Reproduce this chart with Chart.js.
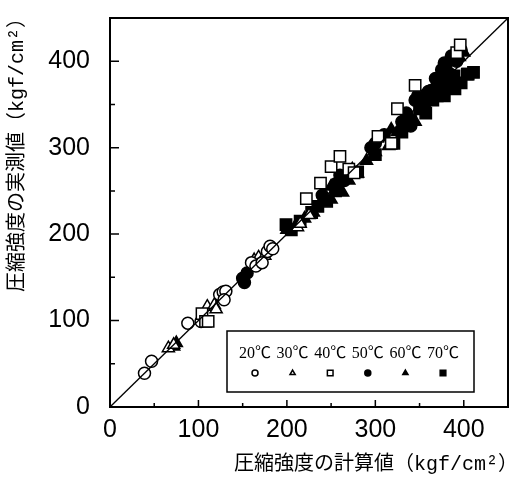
<!DOCTYPE html>
<html>
<head>
<meta charset="utf-8">
<script src="https://cdn.jsdelivr.net/npm/chart.js@4"></script>
<style>
  html, body { margin: 0; padding: 0; background: #fff; }
</style>
</head>
<body>
<canvas id="chart" width="525" height="479"></canvas>
<script>
// temperature series (legend order)
const categories = ["20℃", "30℃", "40℃", "50℃", "60℃", "70℃"];

const s20 = [[39,39],[47,53],[88,97],[103,99],[124,130],[128,133],[131,134],[129,124],
  [160,167],[165,163],[172,167],[178,180],[181,186],[184,183]];
const s30 = [[66,68],[72,72],[110,116],[118,118],[120,113],[127,126],[163,170],[168,173],
  [175,175],[212,208],[215,212],[225,222]];
const s40 = [[104,108],[108,99],[111,99],[222,241],[238,259],[250,278],[260,290],[270,275],
  [276,271],[303,313],[318,305],[325,345],[345,372],[392,410],[396,419]];
const s50 = [[150,149],[152,144],[155,155],[240,245],[255,258],[260,268],[265,262],[295,300],
  [300,305],[310,315],[330,330],[335,340],[340,325],[345,355],[348,360],[352,350],[355,360],
  [360,365],[363,366],[368,380],[370,372],[375,390],[378,398],[380,395],[385,385],[386,406],
  [388,405],[392,400],[397,413]];
const s60 = [[72,70],[75,74],[200,205],[210,210],[220,218],[230,225],[240,238],[250,240],
  [250,255],[263,248],[270,262],[274,275],[280,270],[290,285],[300,295],[315,302],[318,321],
  [325,318],[340,335],[345,330],[355,352],[370,362],[380,370],[385,378],[395,405],[400,410]];
const s70 = [[199,211],[205,205],[215,215],[228,225],[235,232],[245,238],[255,250],[280,272],
  [300,292],[321,305],[330,318],[340,330],[350,345],[357,340],[365,355],[370,360],[375,378],
  [378,360],[386,371],[389,383],[390,368],[397,375],[404,385],[405,385],[411,387]];

const tickVals = [0, 100, 200, 300, 400];
const minorVals = [50, 150, 250, 350];
const diagonal = [[0, 0], [450, 450]];

const styles = [
  { pointStyle: 'circle', radius: 6, fill: '#fff' },
  { pointStyle: 'triangle', radius: 7, fill: '#fff' },
  { pointStyle: 'rect', radius: 8, fill: '#fff' },
  { pointStyle: 'circle', radius: 6, fill: '#000' },
  { pointStyle: 'triangle', radius: 7, fill: '#000' },
  { pointStyle: 'rect', radius: 8, fill: '#000' }
];
const series = [s20, s30, s40, s50, s60, s70];

const toXY = arr => arr.map(p => ({ x: p[0], y: p[1] }));

// open markers on top, so they go first (chart.js draws index 0 last)
const drawOrder = [2, 0, 1, 3, 4, 5];
const datasets = [{
  type: 'line',
  label: 'y=x',
  data: toXY(diagonal),
  borderColor: '#000',
  borderWidth: 1.3,
  pointRadius: 0,
  fill: false
}];
drawOrder.forEach(i => {
  datasets.push({
    label: categories[i],
    data: toXY(series[i]),
    pointStyle: styles[i].pointStyle,
    pointRadius: styles[i].radius,
    pointBackgroundColor: styles[i].fill,
    pointBorderColor: '#000',
    pointBorderWidth: 1.5
  });
});

const deco = {
  id: 'deco',
  afterDatasetsDraw(chart) {
    const { ctx, chartArea: a, scales: { x, y } } = chart;
    ctx.save();
    ctx.strokeStyle = '#000';

    // frame
    ctx.lineWidth = 2;
    ctx.strokeRect(a.left, a.top, a.right - a.left, a.bottom - a.top);

    // inward ticks
    ctx.lineWidth = 1.5;
    ctx.beginPath();
    tickVals.forEach(v => {
      const px = x.getPixelForValue(v);
      ctx.moveTo(px, a.bottom); ctx.lineTo(px, a.bottom - 7);
      const py = y.getPixelForValue(v);
      ctx.moveTo(a.left, py); ctx.lineTo(a.left + 9, py);
    });
    minorVals.forEach(v => {
      const py = y.getPixelForValue(v);
      ctx.moveTo(a.left, py); ctx.lineTo(a.left + 5, py);
      const px = x.getPixelForValue(v);
      ctx.moveTo(px, a.bottom); ctx.lineTo(px, a.bottom - 4);
    });
    ctx.stroke();

    // legend box
    const bx = a.left + 117, by = a.bottom - 76, bw = 247, bh = 61;
    ctx.fillStyle = '#fff';
    ctx.fillRect(bx, by, bw, bh);
    ctx.lineWidth = 1.5;
    ctx.strokeRect(bx, by, bw, bh);
    ctx.font = '16px "Liberation Serif", "Noto Sans CJK JP"';
    ctx.textAlign = 'center';
    ctx.textBaseline = 'middle';
    categories.forEach((c, i) => {
      const cx = bx + 28 + i * 37.6;
      ctx.fillStyle = '#000';
      ctx.fillText(c, cx, by + 23);
      ctx.fillStyle = styles[i].fill;
      ctx.strokeStyle = '#000';
      ctx.lineWidth = 1.5;
      Chart.helpers.drawPoint(ctx, {
        pointStyle: styles[i].pointStyle,
        radius: styles[i].pointStyle === 'rect' ? 4 : 3,
        rotation: 0,
        borderWidth: 1.5
      }, cx, by + 42);
    });

    // axis titles
    ctx.fillStyle = '#000';
    ctx.font = '20px "Liberation Mono", "Noto Sans CJK JP"';
    ctx.textAlign = 'right';
    ctx.fillText('圧縮強度の計算値（kgf/cm²）', 518, 465);
    ctx.translate(18, 150);
    ctx.rotate(-Math.PI / 2);
    ctx.textAlign = 'center';
    ctx.fillText('圧縮強度の実測値（kgf/cm²）', 0, 0);
    ctx.restore();
  }
};

const tickFont = { family: '"Liberation Sans", Arial', size: 25 };

new Chart(document.getElementById('chart'), {
  type: 'scatter',
  data: { datasets: datasets },
  options: {
    responsive: false,
    animation: false,
    devicePixelRatio: 1,
    layout: { padding: { left: 0, right: 17, top: 18, bottom: 0 } },
    plugins: { legend: { display: false }, tooltip: { enabled: false } },
    scales: {
      x: {
        type: 'linear', min: 0, max: 450,
        afterBuildTicks: s => { s.ticks = tickVals.map(v => ({ value: v })); },
        afterFit: s => { s.height = 72; s.paddingLeft = 0; s.paddingRight = 0; },
        grid: { display: false, drawTicks: false },
        border: { display: false },
        ticks: { color: '#000', font: tickFont, padding: 8, maxRotation: 0 }
      },
      y: {
        type: 'linear', min: 0, max: 450,
        afterBuildTicks: s => { s.ticks = tickVals.map(v => ({ value: v })); },
        afterFit: s => { s.width = 110; s.paddingTop = 0; s.paddingBottom = 0; },
        grid: { display: false, drawTicks: false },
        border: { display: false },
        ticks: { color: '#000', font: tickFont, padding: 20 }
      }
    }
  },
  plugins: [deco]
});
</script>
</body>
</html>
